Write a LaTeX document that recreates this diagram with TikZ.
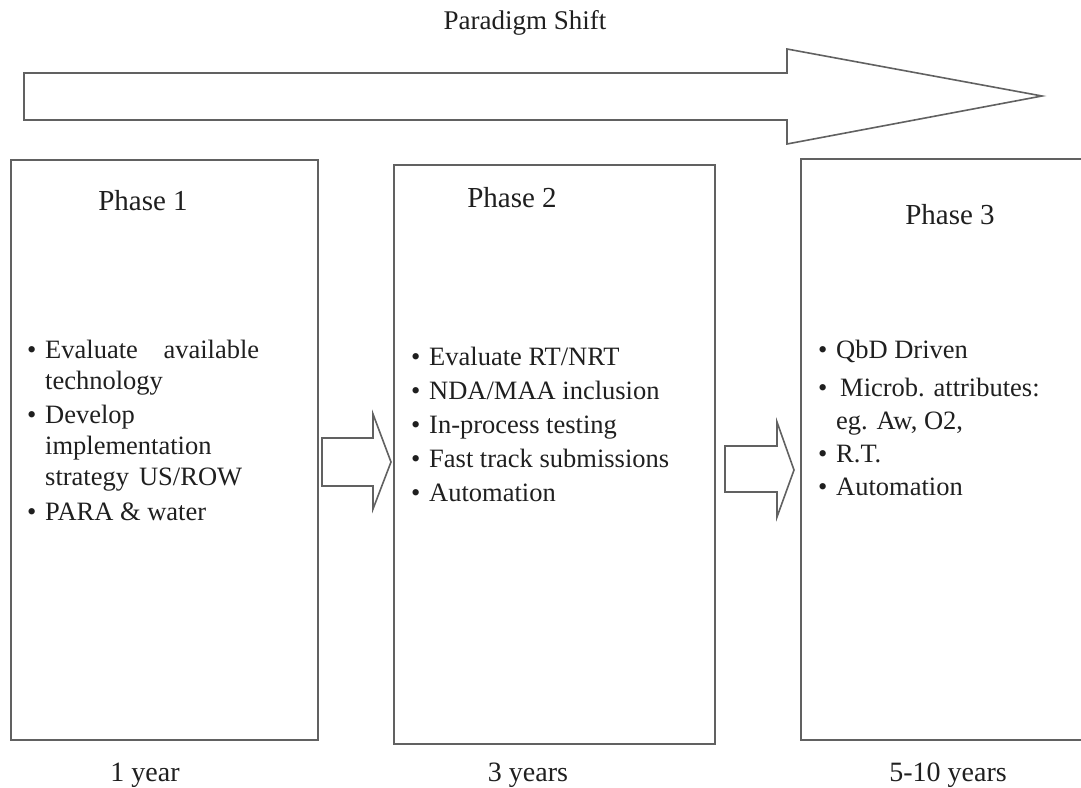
\documentclass[tikz,border=0pt]{standalone}
\usepackage{fontspec}
\setmainfont{Liberation Serif}
\usetikzlibrary{positioning}

\tikzset{
  phasebox/.style={draw=black!62, line width=1.6pt, inner sep=0pt, anchor=north west},
  blockarrow/.style={draw=black!62, line width=1.6pt, line join=miter},
  headtext/.style={font=\fontsize{27}{32}\selectfont, text=black!88, anchor=base},
  phasetitle/.style={font=\fontsize{29}{34}\selectfont, text=black!88, anchor=base},
  itemlist/.style={text=black!88, anchor=base west, inner sep=0pt},
}
\newcommand{\bul}{\makebox[18pt][l]{\textbullet}}
\newcommand{\ind}{\hspace*{18pt}}

\begin{document}
\begin{tikzpicture}[x=1pt, y=-1pt]
\useasboundingbox (0,0) rectangle (1081,787);

% titulek a velká šipka
\node[headtext] (shift) at (525,29) {Paradigm Shift};
\draw[blockarrow] (24,73) -- (787,73) -- (787,49) -- (1042,96) -- (787,144) -- (787,120) -- (24,120) -- cycle;

% rámečky fází
\node[phasebox, minimum width=307, minimum height=580] (box1) at (10,159) {};
\node[phasebox, minimum width=321, minimum height=579] (box2) at (393,164) {};
\node[phasebox, minimum width=300, minimum height=581] (box3) at (800,158) {};

% názvy fází
\node[phasetitle] (title1) at (143,210) {Phase 1};
\node[phasetitle] (title2) at (512,207) {Phase 2};
\node[phasetitle] (title3) at (950,224) {Phase 3};

% body fáze 1
\node[itemlist, font=\fontsize{26.5}{31}\selectfont] (list1) at (27,358) {%
\begin{tabular}[t]{@{}l@{}}
\bul\makebox[214pt][s]{Evaluate\hfill available}\\
\ind technology\\[3pt]
\bul Develop\\
\ind implementation\\
\ind strategy\hspace{10pt}US/ROW\\[4pt]
\bul PARA \& water
\end{tabular}};

% body fáze 2
\node[itemlist, font=\fontsize{26.5}{34}\selectfont] (list2) at (411,365) {%
\begin{tabular}[t]{@{}l@{}}
\bul Evaluate RT/NRT\\
\bul NDA/MAA inclusion\\
\bul In-process testing\\
\bul Fast track submissions\\
\bul Automation
\end{tabular}};

% body fáze 3
\node[itemlist, font=\fontsize{26.5}{33}\selectfont] (list3) at (818,358) {%
\begin{tabular}[t]{@{}l@{}}
\bul QbD Driven\\[5pt]
\bul\hspace{4pt}Microb. attributes:\\
\ind eg. Aw, O2,\\
\bul R.T.\\
\bul Automation
\end{tabular}};

% šipky mezi fázemi
\draw[blockarrow] (322,438) -- (373,438) -- (373,414) -- (391,462) -- (373,509) -- (373,486) -- (322,486) -- cycle;
\draw[blockarrow] (725,446) -- (777,446) -- (777,422) -- (794,470) -- (777,517) -- (777,492) -- (725,492) -- cycle;

% doba trvání
\node[phasetitle, font=\fontsize{28}{33}\selectfont] (time1) at (145,781) {1 year};
\node[phasetitle, font=\fontsize{28}{33}\selectfont] (time2) at (528,781) {3 years};
\node[phasetitle, font=\fontsize{28}{33}\selectfont] (time3) at (948,781) {5-10 years};

\end{tikzpicture}
\end{document}
